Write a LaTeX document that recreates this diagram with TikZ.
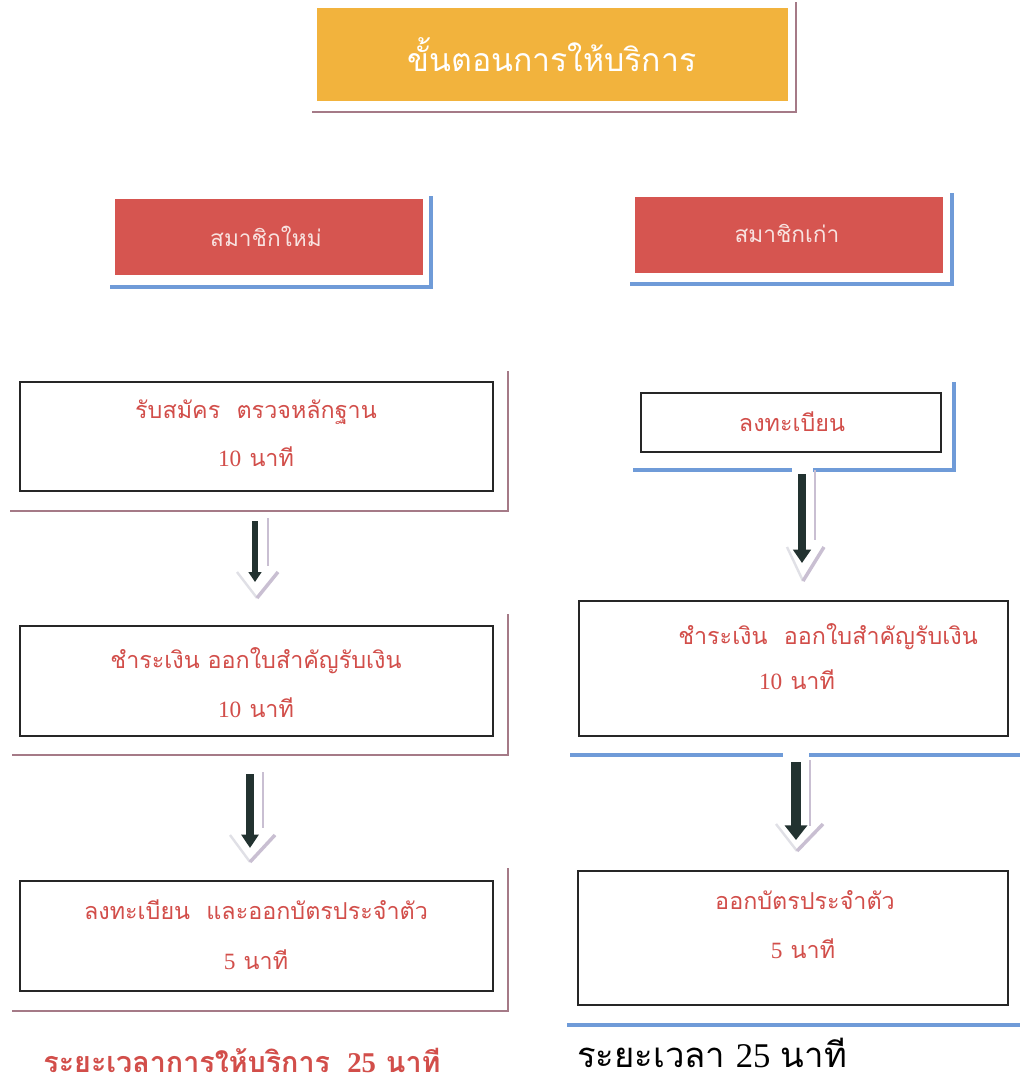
\documentclass[tikz,border=0pt]{standalone}
\usepackage{fontspec}
\newfontfamily\thai[Script=Thai]{Loma}
\newfontfamily\numf{Liberation Serif}
\usetikzlibrary{arrows.meta,fit,calc}
\definecolor{titleor}{HTML}{F2B33D}
\definecolor{mauve}{HTML}{A57A87}
\definecolor{redfill}{HTML}{D65550}
\definecolor{blueln}{HTML}{6F9BD8}
\definecolor{redtxt}{HTML}{D24E4A}
\definecolor{pinktxt}{HTML}{F8E2E0}
\definecolor{darkarr}{HTML}{223230}
\definecolor{shadowarr}{HTML}{C9BFD2}
\definecolor{shadowarrL}{HTML}{E0E0E6}
\begin{document}
\begin{tikzpicture}[x=0.75pt,y=-0.75pt,
  stepbox/.style={draw=black!85,line width=0.9pt,fill=white,inner sep=0pt},
  redbox/.style={fill=redfill,inner sep=0pt},
  titlebox/.style={fill=titleor,inner sep=0pt},
  mline/.style={draw=mauve,line width=2.2pt},
  bline/.style={draw=blueln,line width=2.6pt},
  boxtxt/.style={text=redtxt,font=\thai\fontsize{17.5}{20}\selectfont,inner sep=0pt},
  redtxtnode/.style={text=pinktxt,font=\thai\fontsize{17}{20}\selectfont,inner sep=0pt},
  titletxt/.style={text=white,font=\thai\fontsize{24}{28}\selectfont,inner sep=0pt},
  darrowA/.style={draw=darkarr,line width=4.5pt,-{Triangle[width=9.5pt,length=7.5pt]}},
  darrowB/.style={draw=darkarr,line width=6pt,-{Triangle[width=12.5pt,length=10pt]}},
  darrowC/.style={draw=darkarr,line width=5.5pt,-{Triangle[width=13pt,length=10pt]}},
  darrowD/.style={draw=darkarr,line width=7.5pt,-{Triangle[width=16.5pt,length=11pt]}},
  ashadow/.style={draw=shadowarr,line width=1.6pt},
  vshadowL/.style={draw=shadowarrL,line width=1.8pt},
  vshadowR/.style={draw=shadowarr,line width=2.6pt}
]
\useasboundingbox[fill=white] (0,0) rectangle (1020,1086);
\newcommand{\nati}[1]{{\numf #1}\hspace{0.35em}นาที}

% ---------- title ----------
\draw[mline] (312,112) -- (796,112) -- (796,2);
\node[titlebox,fit={(317,8) (788,101)}] (title) {};
\node[titletxt] (titlet) at (552,55) {ขั้นตอนการให้บริการ};

% ---------- red headers ----------
\draw[bline] (110,287) -- (431,287) -- (431,196);
\node[redbox,fit={(115,199) (423,275)}] (newm) {};
\node[redtxtnode] (newmt) at (266,236) {สมาชิกใหม่};

\draw[bline] (630,284) -- (952,284) -- (952,193);
\node[redbox,fit={(635,197) (943,273)}] (oldm) {};
\node[redtxtnode] (oldmt) at (787,233) {สมาชิกเก่า};

% ---------- left column ----------
\draw[mline] (10,511) -- (508,511) -- (508,371);
\node[stepbox,fit={(20,382) (493,491)}] (l1) {};
\node[boxtxt] (l1a) at (256,412) {รับสมัคร\hspace{0.7em}ตรวจหลักฐาน};
\node[boxtxt] (l1b) at (256,457) {\nati{10}};

\draw[mline] (12,755) -- (508,755) -- (508,614);
\node[stepbox,fit={(20,626) (493,736)}] (l2) {};
\node[boxtxt] (l2a) at (256,661) {ชำระเงิน ออกใบสำคัญรับเงิน};
\node[boxtxt] (l2b) at (256,708) {\nati{10}};

\draw[mline] (12,1011) -- (508,1011) -- (508,868);
\node[stepbox,fit={(20,881) (493,991)}] (l3) {};
\node[boxtxt] (l3a) at (256,910) {ลงทะเบียน\hspace{0.7em}และออกบัตรประจำตัว};
\node[boxtxt] (l3b) at (256,960) {\nati{5}};

% ---------- right column ----------
\draw[bline] (633,470) -- (792,470);
\draw[bline] (813,470) -- (954,470) -- (954,382);
\node[stepbox,fit={(641,393) (941,452)}] (r1) {};
\node[boxtxt] (r1a) at (792,422) {ลงทะเบียน};

\draw[bline] (570,755) -- (783,755);
\draw[bline] (809,755) -- (1020,755);
\node[stepbox,fit={(579,601) (1008,736)}] (r2) {};
\node[boxtxt] (r2a) at (828,637) {ชำระเงิน\hspace{0.7em}ออกใบสำคัญรับเงิน};
\node[boxtxt] (r2b) at (797,680) {\nati{10}};

\draw[bline] (567,1025) -- (1020,1025);
\node[stepbox,fit={(578,871) (1008,1005)}] (r3) {};
\node[boxtxt] (r3a) at (805,900) {ออกบัตรประจำตัว};
\node[boxtxt] (r3b) at (803,949) {\nati{5}};

% ---------- arrows ----------
\coordinate (al1s) at (255,521); \coordinate (al1e) at (255,582);
\draw[ashadow] (268,518) -- (268,566);
\draw[vshadowL] (237,572) -- (257,598);
\draw[vshadowR] (257,598) -- (278,572);
\draw[darrowA] (al1s) -- (al1e);

\coordinate (al2s) at (250,774); \coordinate (al2e) at (250,848);
\draw[ashadow] (263,772) -- (263,828);
\draw[vshadowL] (230,835) -- (250,862);
\draw[vshadowR] (250,862) -- (275,835);
\draw[darrowB] (al2s) -- (al2e);

\coordinate (ar1s) at (802,474); \coordinate (ar1e) at (802,563);
\draw[ashadow] (815,470) -- (815,540);
\draw[vshadowL] (787,547) -- (803,581);
\draw[vshadowR] (803,581) -- (824,547);
\draw[darrowC] (ar1s) -- (ar1e);

\coordinate (ar2s) at (796,762); \coordinate (ar2e) at (796,840);
\draw[ashadow] (810,760) -- (810,826);
\draw[vshadowL] (776,824) -- (797,851);
\draw[vshadowR] (797,851) -- (823,824);
\draw[darrowD] (ar2s) -- (ar2e);

% ---------- totals ----------
\node[text=redtxt,font=\thai\bfseries\fontsize{21.5}{24}\selectfont,inner sep=0pt,anchor=base] (totl) at (242,1072)
  {ระยะเวลาการให้บริการ\hspace{0.6em}{\numf\bfseries 25}\hspace{0.35em}นาที};
\node[text=black,font=\thai\fontsize{26}{30}\selectfont,inner sep=0pt,anchor=base] (totr) at (712,1067)
  {ระยะเวลา\hspace{0.3em}{\numf 25}\hspace{0.3em}นาที};
\end{tikzpicture}
\end{document}
